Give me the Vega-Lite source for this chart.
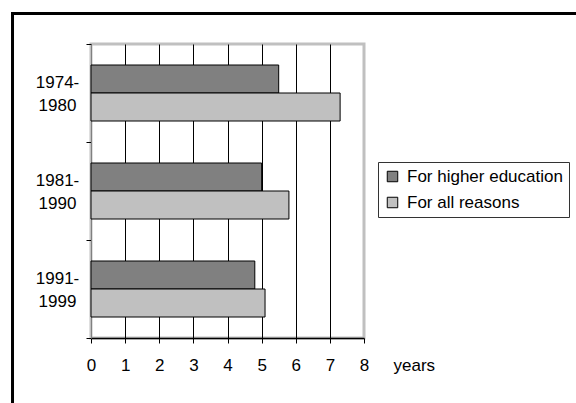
{
  "$schema": "https://vega.github.io/schema/vega-lite/v6.json",
  "autosize": {"type": "none"},
  "padding": {"left": 91, "top": 44, "right": 212, "bottom": 65},
  "width": 273,
  "height": 294,
  "background": "white",
  "config": {
    "font": "Liberation Sans",
    "view": {"stroke": "#c0c0c0", "strokeWidth": 3},
    "axisX": {
      "values": [0, 1, 2, 3, 4, 5, 6, 7, 8],
      "labelOverlap": false,
      "labelFlush": false,
      "grid": true,
      "gridColor": "black",
      "gridWidth": 1,
      "domainColor": "black",
      "domainWidth": 1.5,
      "tickColor": "black",
      "tickSize": 5,
      "labelFontSize": 17,
      "labelColor": "black",
      "labelPadding": 14,
      "titleFontSize": 17,
      "titleFontWeight": "normal",
      "titleColor": "black",
      "titleAlign": "left",
      "titleBaseline": "alphabetic",
      "titleX": 302,
      "titleY": 32
    }
  },
  "layer": [
    {
      "data": {
        "values": [
          {"period": "1974-1980", "reason": "For higher education", "years": 5.5},
          {"period": "1974-1980", "reason": "For all reasons", "years": 7.3},
          {"period": "1981-1990", "reason": "For higher education", "years": 5.0},
          {"period": "1981-1990", "reason": "For all reasons", "years": 5.8},
          {"period": "1991-1999", "reason": "For higher education", "years": 4.8},
          {"period": "1991-1999", "reason": "For all reasons", "years": 5.1}
        ]
      },
      "mark": {"type": "bar", "stroke": "black", "strokeWidth": 1},
      "encoding": {
        "y": {
          "field": "period",
          "type": "nominal",
          "sort": ["1974-1980", "1981-1990", "1991-1999"],
          "scale": {"paddingInner": 0, "paddingOuter": 0},
          "axis": {
            "title": null,
            "tickBand": "extent",
            "grid": false,
            "domainColor": "#808080",
            "domainWidth": 1,
            "tickColor": "black",
            "tickSize": 5,
            "labelFontSize": 17,
            "labelColor": "black",
            "labelAlign": "center",
            "labelBaseline": "middle",
            "labelPadding": 29,
            "labelLineHeight": 23,
            "labelOffset": -10.5,
            "labelExpr": "[substring(datum.label, 0, 5), substring(datum.label, 5)]"
          }
        },
        "yOffset": {
          "field": "reason",
          "type": "nominal",
          "sort": ["For higher education", "For all reasons"],
          "scale": {"paddingInner": 0, "paddingOuter": 0.75}
        },
        "x": {
          "field": "years",
          "type": "quantitative",
          "scale": {"domain": [0, 8], "nice": false, "zero": true},
          "axis": {
            "values": [0, 1, 2, 3, 4, 5, 6, 7, 8],
            "labelOverlap": false,
            "labelFlush": false,
            "gridOpacity": {"condition": {"test": "datum.value === 8", "value": 0}, "value": 1},
            "title": "years"
          }
        },
        "color": {
          "field": "reason",
          "type": "nominal",
          "sort": ["For higher education", "For all reasons"],
          "scale": {"domain": ["For higher education", "For all reasons"], "range": ["#808080", "#c0c0c0"]},
          "legend": {
            "title": null,
            "orient": "none",
            "legendX": 287,
            "legendY": 118,
            "padding": 6,
            "strokeColor": "#333333",
            "fillColor": "white",
            "symbolType": "square",
            "symbolSize": 110,
            "symbolStrokeColor": "black",
            "symbolStrokeWidth": 1,
            "symbolOpacity": 1,
            "labelFontSize": 17,
            "labelColor": "black",
            "labelOffset": 6,
            "rowPadding": 8
          }
        }
      }
    },
    {
      "data": {"values": [{}]},
      "mark": {"type": "rule", "color": "black", "strokeWidth": 3},
      "encoding": {
        "x": {"datum": -2.344, "type": "quantitative", "scale": {"domain": [0, 8], "nice": false, "zero": true}, "axis": {"values": [0, 1, 2, 3, 4, 5, 6, 7, 8], "labelOverlap": false, "labelFlush": false, "gridOpacity": {"condition": {"test": "datum.value === 8", "value": 0}, "value": 1}, "title": "years"}},
        "x2": {"datum": 14.4},
        "y": {"datum": 1.1037, "type": "quantitative", "scale": {"domain": [0, 1], "nice": false, "zero": false}, "axis": null}
      }
    },
    {
      "data": {"values": [{}]},
      "mark": {"type": "rule", "color": "black", "strokeWidth": 3},
      "encoding": {
        "x": {"datum": -2.3, "type": "quantitative", "scale": {"domain": [0, 8], "nice": false, "zero": true}, "axis": {"values": [0, 1, 2, 3, 4, 5, 6, 7, 8], "labelOverlap": false, "labelFlush": false, "gridOpacity": {"condition": {"test": "datum.value === 8", "value": 0}, "value": 1}, "title": "years"}},
        "y": {"datum": 1.1088, "type": "quantitative", "scale": {"domain": [0, 1], "nice": false, "zero": false}, "axis": null},
        "y2": {"datum": -0.25}
      }
    }
  ],
  "resolve": {"scale": {"y": "independent"}}
}
